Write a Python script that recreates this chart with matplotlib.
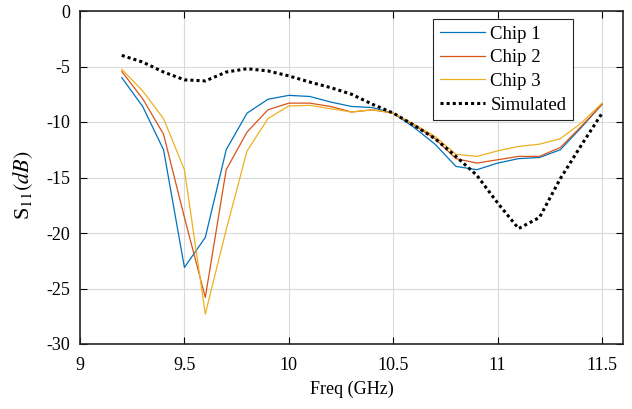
import matplotlib
matplotlib.use("Agg")
import matplotlib.pyplot as plt
import numpy as np

freq = [9.2, 9.3, 9.4, 9.5, 9.6, 9.7, 9.8, 9.9, 10.0, 10.1, 10.2, 10.3,
        10.4, 10.5, 10.6, 10.7, 10.8, 10.9, 11.0, 11.1, 11.2, 11.3, 11.4, 11.5]

chip1 = [-6.0, -8.6, -12.5, -23.1, -20.4, -12.5, -9.2, -7.95, -7.6, -7.7, -8.2, -8.6,
         -8.7, -9.2, -10.5, -12.0, -14.0, -14.3, -13.7, -13.3, -13.2, -12.5, -10.5, -8.4]
chip2 = [-5.45, -7.9, -11.1, -18.6, -25.8, -14.3, -10.9, -8.9, -8.3, -8.3, -8.6, -9.1,
         -8.9, -9.2, -10.3, -11.5, -13.3, -13.7, -13.4, -13.1, -13.1, -12.3, -10.4, -8.4]
chip3 = [-5.25, -7.2, -9.7, -14.3, -27.3, -19.7, -12.6, -9.7, -8.55, -8.5, -8.8, -9.1,
         -8.9, -9.2, -10.2, -11.3, -12.9, -13.1, -12.6, -12.2, -12.0, -11.5, -10.1, -8.3]
simulated = [-4.0, -4.6, -5.5, -6.2, -6.3, -5.5, -5.2, -5.4, -5.85, -6.4, -6.9, -7.5,
             -8.4, -9.2, -10.3, -11.5, -13.1, -14.8, -17.3, -19.6, -18.6, -15.1, -12.1, -9.2]

xticks = [9, 9.5, 10, 10.5, 11, 11.5]
xticklabels = ["9", "9.5", "10", "10.5", "11", "11.5"]
yticks = [0, -5, -10, -15, -20, -25, -30]
yticklabels = ["0", "-5", "-10", "-15", "-20", "-25", "-30"]

plt.rcParams['font.family'] = ['Liberation Serif', 'DejaVu Serif']
plt.rcParams['mathtext.fontset'] = 'stix'

fig = plt.figure(figsize=(6.32, 4.09), dpi=100)
ax = fig.add_axes([80 / 632, 1 - 344 / 409, 543 / 632, 333 / 409])

ax.plot(freq, chip1, color='#0072BD', lw=0.9, label='Chip 1')
ax.plot(freq, chip2, color='#D95319', lw=0.9, label='Chip 2')
ax.plot(freq, chip3, color='#EDB120', lw=0.9, label='Chip 3')
ax.plot(freq, simulated, color='black', lw=2.2, linestyle=(0, (1, 1)), label='Simulated')

ax.set_xlim(9, 11.6)
ax.set_ylim(-30, 0)
ax.set_xticks(xticks)
ax.set_xticklabels(xticklabels)
ax.set_yticks(yticks)
ax.set_yticklabels(yticklabels)
ax.tick_params(direction='in', top=True, right=True, labelsize=13, length=5, width=0.8)
ax.tick_params(axis='x', pad=9)
ax.tick_params(axis='y', pad=7)
ax.grid(True, color='#d9d9d9', linewidth=0.8)
for s in ax.spines.values():
    s.set_linewidth(1.2)
    s.set_color('#262626')

ax.set_xlabel('Freq (GHz)', fontsize=13, labelpad=5)
ax.set_ylabel(r'S$_{11}$$(dB)$', fontsize=16)
ax.yaxis.set_label_coords(-0.082, 0.477)

leg = ax.legend(loc='upper right', bbox_to_anchor=(0.908, 0.976), fontsize=13.5,
                fancybox=False, framealpha=1, edgecolor='#262626',
                handlelength=2.4, handletextpad=0.3, borderpad=0.35, labelspacing=0.35,
                borderaxespad=0)
leg.get_frame().set_linewidth(0.8)

fig.savefig('out.png', dpi=100)
